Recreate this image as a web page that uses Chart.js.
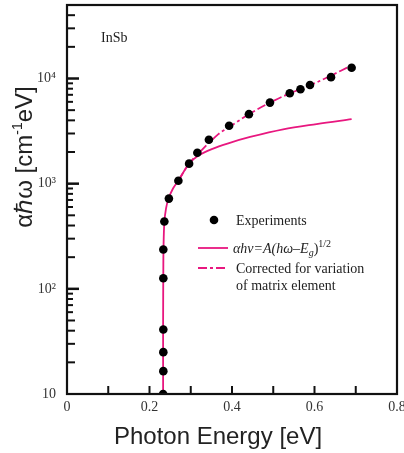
<!DOCTYPE html>
<html><head><meta charset="utf-8">
<script src="https://cdn.jsdelivr.net/npm/chart.js@4"></script>
<style>html,body{margin:0;padding:0;background:#fff}#wrap{width:404px;height:453px}</style>
</head><body><div id="wrap"><canvas id="c" width="404" height="453"></canvas></div>
<script>
// ---- data ----
const energyExp = [0.233, 0.2335, 0.2335, 0.2335, 0.2335, 0.2335, 0.236, 0.247, 0.270, 0.296, 0.316, 0.344, 0.393, 0.441, 0.492, 0.540, 0.566, 0.589, 0.640, 0.690];
const valueExp  = [10, 16.5, 25, 41, 126, 237, 437, 721, 1066, 1550, 1967, 2612, 3550, 4580, 5900, 7240, 7900, 8670, 10300, 12650];

const energyFit = [0.233, 0.233, 0.2335, 0.234, 0.236, 0.240, 0.246, 0.257, 0.270, 0.296, 0.318, 0.351, 0.391, 0.444, 0.524, 0.605, 0.690];
const valueFit  = [10, 50, 150, 250, 430, 580, 720, 900, 1070, 1550, 1840, 2130, 2420, 2780, 3290, 3690, 4100];

const energyCorr = [0.270, 0.296, 0.318, 0.367, 0.395, 0.444, 0.492, 0.541, 0.589, 0.638, 0.690];
const valueCorr  = [1070, 1550, 1925, 2960, 3490, 4650, 5900, 7250, 8610, 10570, 13330];

const xTickValues = [0, 0.2, 0.4, 0.6, 0.8];
const xTickLabels = ['0', '0.2', '0.4', '0.6', '0.8'];
const xMinorTicks = [0.1, 0.3, 0.5, 0.7];
const yMajorTicks = [10, 100, 1000, 10000];
const yTickLabels = ['10', '10²', '10³', '10⁴'];
const yMinorMultipliers = [2, 3, 4, 5, 6, 7, 8, 9];

const PINK = '#e8177f';
const SERIF = '"Liberation Serif", "Times New Roman", serif';
const SANS = '"Liberation Sans", Arial, sans-serif';

const pts = (xs, ys) => xs.map((x, i) => ({x, y: ys[i]}));

const frame = {
  id: 'frame',
  afterDatasetsDraw(chart) {
    const {ctx, chartArea: a, scales: {x, y}} = chart;
    ctx.save();
    ctx.strokeStyle = '#111';
    const line = (x1, y1, x2, y2) => { ctx.beginPath(); ctx.moveTo(x1, y1); ctx.lineTo(x2, y2); ctx.stroke(); };
    ctx.lineWidth = 2;
    [...xTickValues, ...xMinorTicks].forEach(v => {
      const px = x.getPixelForValue(v);
      if (px <= a.left + 1 || px >= a.right - 1) return;
      line(px, a.bottom, px, a.bottom - 8);
    });
    yMajorTicks.forEach(v => {
      const py = y.getPixelForValue(v);
      if (py >= a.bottom - 1) return;
      ctx.lineWidth = 2.5;
      line(a.left, py, a.left + 12, py);
    });
    yMajorTicks.forEach(d => {
      yMinorMultipliers.forEach(m => {
        const v = d * m;
        if (v >= y.max) return;
        const py = y.getPixelForValue(v);
        ctx.lineWidth = 2;
        line(a.left, py, a.left + (m <= 5 ? 8 : 6), py);
      });
    });
    ctx.lineWidth = 2.2;
    ctx.strokeRect(a.left, a.top, a.right - a.left, a.bottom - a.top);
    ctx.restore();
  },
  afterDraw(chart) {
    const {ctx} = chart;
    ctx.save();
    ctx.fillStyle = '#222';
    ctx.textBaseline = 'alphabetic';
    // InSb
    ctx.font = '14px ' + SERIF;
    ctx.fillText('InSb', 101, 42);
    // legend: experiments
    ctx.beginPath(); ctx.arc(214, 220, 4.3, 0, Math.PI * 2); ctx.fillStyle = '#000'; ctx.fill();
    ctx.fillStyle = '#222';
    ctx.fillText('Experiments', 236, 225);
    // legend: fit
    ctx.strokeStyle = PINK; ctx.lineWidth = 1.8;
    ctx.beginPath(); ctx.moveTo(198, 248); ctx.lineTo(228, 248); ctx.stroke();
    let cx = 233;
    const seg = (t, font, dy) => { ctx.font = font; ctx.fillText(t, cx, 253 + dy); cx += ctx.measureText(t).width; };
    seg('αhν=A(hω–E', 'italic 14px ' + SERIF, 0);
    seg('g', 'italic 10px ' + SERIF, 3);
    seg(')', '14px ' + SERIF, 0);
    seg('1/2', '10px ' + SERIF, -6);
    // legend: corrected
    ctx.setLineDash([9, 3, 3, 3]);
    ctx.beginPath(); ctx.moveTo(198, 268); ctx.lineTo(228, 268); ctx.stroke();
    ctx.setLineDash([]);
    ctx.font = '14px ' + SERIF;
    ctx.fillText('Corrected for variation', 236, 273);
    ctx.fillText('of matrix element', 236, 290);
    // axis titles
    ctx.font = '24px ' + SANS;
    ctx.textAlign = 'center';
    ctx.textBaseline = 'middle';
    ctx.fillText('Photon Energy [eV]', 218, 437);
    ctx.translate(25, 157);
    ctx.rotate(-Math.PI / 2);
    ctx.textAlign = 'left';
    const parts = [['αℏω [cm', '24px ' + SANS, 0], ['-1', '14px ' + SANS, -7], ['eV]', '24px ' + SANS, 0]];
    let w = 0;
    parts.forEach(p => { ctx.font = p[1]; w += ctx.measureText(p[0]).width; });
    let px = -w / 2;
    parts.forEach(p => { ctx.font = p[1]; ctx.fillText(p[0], px, p[2]); px += ctx.measureText(p[0]).width; });
    ctx.restore();
  }
};

new Chart(document.getElementById('c'), {
  type: 'scatter',
  data: {
    datasets: [
      {label: 'Experiments', data: pts(energyExp, valueExp), showLine: false, pointRadius: 4.3,
       pointBackgroundColor: '#000', pointBorderColor: '#000', pointBorderWidth: 0, order: 0},
      {label: 'fit', data: pts(energyFit, valueFit), showLine: true, pointRadius: 0,
       borderColor: PINK, borderWidth: 1.8, tension: 0.35, order: 1},
      {label: 'corrected', data: pts(energyCorr, valueCorr), showLine: true, pointRadius: 0,
       borderColor: PINK, borderWidth: 1.8, borderDash: [9, 3, 3, 3], tension: 0.35, order: 2}
    ]
  },
  options: {
    responsive: false,
    animation: false,
    events: [],
    layout: {padding: {top: 5, right: 7, left: 0, bottom: 0}},
    plugins: {legend: {display: false}, tooltip: {enabled: false}},
    scales: {
      x: {
        type: 'linear', min: 0, max: 0.8,
        afterBuildTicks: s => { s.ticks = xTickValues.map(v => ({value: v})); },
        afterFit: s => { s.height = 59; s.paddingLeft = 0; s.paddingRight = 0; },
        ticks: {callback: (v, i) => xTickLabels[i], font: {family: SERIF, size: 14}, color: '#333',
                padding: 5, maxRotation: 0, autoSkip: false},
        grid: {display: false, drawTicks: false},
        border: {display: false}
      },
      y: {
        type: 'logarithmic', min: 10, max: 50000,
        afterBuildTicks: s => { s.ticks = yMajorTicks.map(v => ({value: v})); },
        afterFit: s => { s.width = 67; s.paddingTop = 0; s.paddingBottom = 0; },
        ticks: {callback: (v, i) => yTickLabels[i], font: {family: SERIF, size: 14}, color: '#333',
                padding: 11, autoSkip: false},
        grid: {display: false, drawTicks: false},
        border: {display: false}
      }
    }
  },
  plugins: [frame]
});
</script>
</body></html>
